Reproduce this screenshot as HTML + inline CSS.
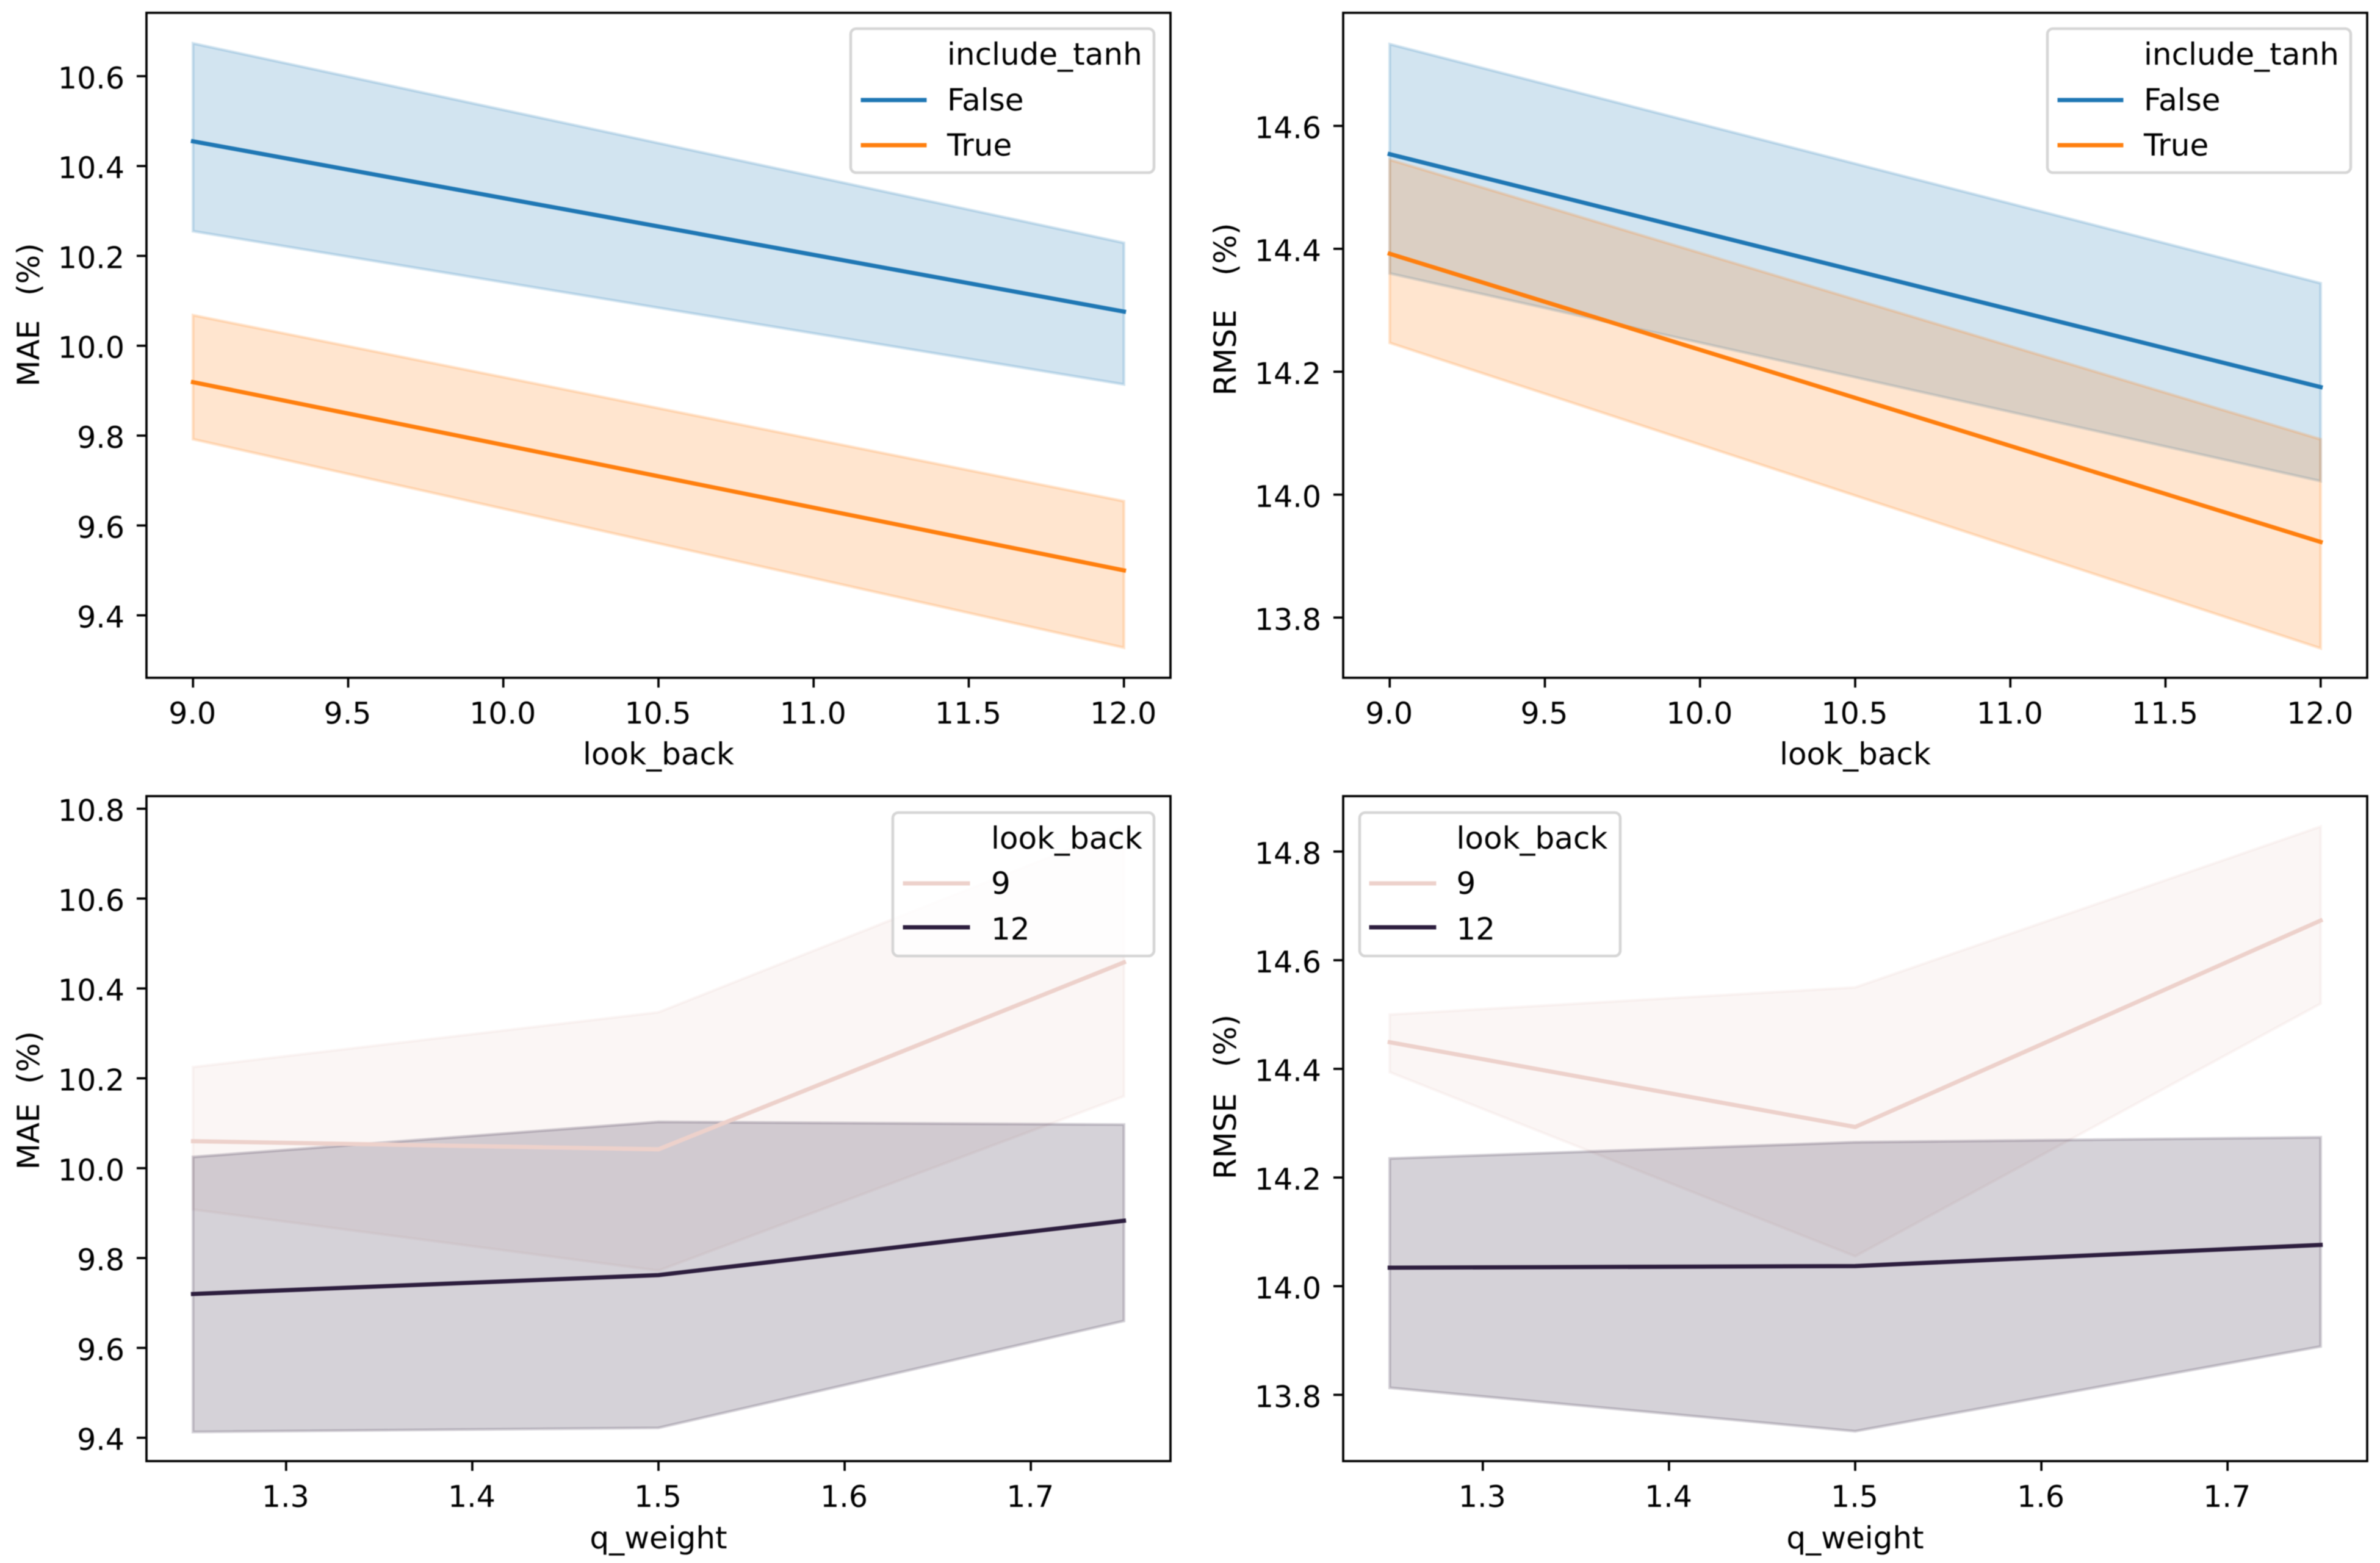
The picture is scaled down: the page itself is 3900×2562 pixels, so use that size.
<!DOCTYPE html>
<html lang="en">
<head>
<meta charset="utf-8">
<title>MAE and RMSE by look_back and q_weight</title>
<style>
  html, body { margin: 0; padding: 0; background: #fff; }
  svg { display: block; filter: blur(0.8px); }
  text { font-family: "DejaVu Sans", "Liberation Sans", sans-serif; font-size: 50px; fill: #000; white-space: pre; text-rendering: geometricPrecision; }
  text.tick-label { font-size: 49px; }
  .legend-box { fill: #fff; fill-opacity: .8; stroke: #ccc; stroke-opacity: .8; stroke-width: 4.6; }
  .frame { fill: none; stroke: #000; stroke-width: 3.7; }
  .h { fill: none; stroke-width: 6.9; stroke-linecap: square; }
</style>
</head>
<body>
<svg id="figure" xmlns="http://www.w3.org/2000/svg" width="3900" height="2562" viewBox="0 0 3900 2562">
  <rect width="3900" height="2562" fill="#fff"/>

  <g id="panel-a">
    <g id="marks-a"></g>
    <rect class="frame" x="240" y="21" width="1678" height="1090"/>
    <g id="ticks-a"></g>
    <text x="1079" y="1253" text-anchor="middle">look_back</text>
    <text transform="translate(64 516) rotate(-90)" text-anchor="middle" style="word-spacing:4px">MAE  (%)</text>
    <g>
      <rect class="legend-box" x="1394" y="47" width="497" height="236" rx="9"/>
      <text x="1552" y="106">include_tanh</text>
      <line class="h" x1="1414" x2="1515" y1="164" y2="164" stroke="#1f77b4"/>
      <text x="1552" y="181">False</text>
      <line class="h" x1="1414" x2="1515" y1="238" y2="238" stroke="#ff7f0e"/>
      <text x="1552" y="255">True</text>
    </g>
  </g>

  <g id="panel-b">
    <g id="marks-b"></g>
    <rect class="frame" x="2201" y="21" width="1678" height="1090"/>
    <g id="ticks-b"></g>
    <text x="3040" y="1253" text-anchor="middle">look_back</text>
    <text transform="translate(2025 507) rotate(-90)" text-anchor="middle" style="word-spacing:2.5px">RMSE   (%)</text>
    <g>
      <rect class="legend-box" x="3355" y="47" width="497" height="236" rx="9"/>
      <text x="3513" y="106">include_tanh</text>
      <line class="h" x1="3375" x2="3476" y1="164" y2="164" stroke="#1f77b4"/>
      <text x="3513" y="181">False</text>
      <line class="h" x1="3375" x2="3476" y1="238" y2="238" stroke="#ff7f0e"/>
      <text x="3513" y="255">True</text>
    </g>
  </g>

  <g id="panel-c">
    <g id="marks-c"></g>
    <rect class="frame" x="240" y="1305" width="1678" height="1090"/>
    <g id="ticks-c"></g>
    <text x="1079" y="2538" text-anchor="middle">q_weight</text>
    <text transform="translate(64 1803.8) rotate(-90)" text-anchor="middle">MAE  (%)</text>
    <g>
      <rect class="legend-box" x="1463" y="1332" width="428" height="235" rx="9"/>
      <text x="1624" y="1391">look_back</text>
      <line class="h" x1="1483" x2="1586" y1="1448" y2="1448" stroke="#edd1cb"/>
      <text x="1624" y="1465">9</text>
      <line class="h" x1="1483" x2="1586" y1="1520" y2="1520" stroke="#2d1e3e"/>
      <text x="1624" y="1540">12</text>
    </g>
  </g>

  <g id="panel-d">
    <g id="marks-d"></g>
    <rect class="frame" x="2201" y="1305" width="1678" height="1090"/>
    <g id="ticks-d"></g>
    <text x="3040" y="2538" text-anchor="middle">q_weight</text>
    <text transform="translate(2025 1798) rotate(-90)" text-anchor="middle" style="word-spacing:-1.7px">RMSE   (%)</text>
    <g>
      <rect class="legend-box" x="2228" y="1332" width="427" height="235" rx="9"/>
      <text x="2386.5" y="1391">look_back</text>
      <line class="h" x1="2247" x2="2350" y1="1448" y2="1448" stroke="#edd1cb"/>
      <text x="2386.5" y="1465">9</text>
      <line class="h" x1="2247" x2="2350" y1="1520" y2="1520" stroke="#2d1e3e"/>
      <text x="2386.5" y="1540">12</text>
    </g>
  </g>
</svg>

<script>
/* ---------- categories ---------- */
const lookBackValues = [9, 12];
const qWeightValues = [1.25, 1.5, 1.75];

/* ---------- tick labels ---------- */
const lookBackTicks = ['9.0', '9.5', '10.0', '10.5', '11.0', '11.5', '12.0'];
const qWeightTicks = ['1.3', '1.4', '1.5', '1.6', '1.7'];
const maeTopTicks = ['9.4', '9.6', '9.8', '10.0', '10.2', '10.4', '10.6'];
const rmseTopTicks = ['13.8', '14.0', '14.2', '14.4', '14.6'];
const maeBottomTicks = ['9.4', '9.6', '9.8', '10.0', '10.2', '10.4', '10.6', '10.8'];
const rmseBottomTicks = ['13.8', '14.0', '14.2', '14.4', '14.6', '14.8'];

/* ---------- axis limits ---------- */
const lookBackLimits = [8.85, 12.15];
const qWeightLimits = [1.225, 1.775];
const maeTopLimits = [9.261, 10.741];
const rmseTopLimits = [13.702, 14.784];
const maeBottomLimits = [9.348, 10.828];
const rmseBottomLimits = [13.678, 14.902];

/* ---------- MAE by look_back ---------- */
const maeFalseMean = [10.455, 10.076];
const maeFalseUpper = [10.673, 10.229];
const maeFalseLower = [10.255, 9.914];
const maeTrueMean = [9.919, 9.5];
const maeTrueUpper = [10.068, 9.654];
const maeTrueLower = [9.792, 9.328];

/* ---------- RMSE by look_back ---------- */
const rmseFalseMean = [14.554, 14.175];
const rmseFalseUpper = [14.733, 14.344];
const rmseFalseLower = [14.36, 14.022];
const rmseTrueMean = [14.392, 13.923];
const rmseTrueUpper = [14.545, 14.09];
const rmseTrueLower = [14.247, 13.75];

/* ---------- MAE by q_weight ---------- */
const maeLb9Mean = [10.06, 10.042, 10.458];
const maeLb9Upper = [10.225, 10.347, 10.758];
const maeLb9Lower = [9.908, 9.772, 10.16];
const maeLb12Mean = [9.72, 9.762, 9.883];
const maeLb12Upper = [10.025, 10.103, 10.097];
const maeLb12Lower = [9.413, 9.422, 9.66];

/* ---------- RMSE by q_weight ---------- */
const rmseLb9Mean = [14.449, 14.293, 14.673];
const rmseLb9Upper = [14.5, 14.55, 14.846];
const rmseLb9Lower = [14.394, 14.055, 14.52];
const rmseLb12Mean = [14.034, 14.037, 14.076];
const rmseLb12Upper = [14.235, 14.265, 14.274];
const rmseLb12Lower = [13.813, 13.733, 13.889];

const NS = 'http://www.w3.org/2000/svg';

function linearScale(domain, a, b) {
  return function (v) {
    return a + (v - domain[0]) * (b - a) / (domain[1] - domain[0]);
  };
}

function svgEl(tag, parent) {
  const el = document.createElementNS(NS, tag);
  parent.appendChild(el);
  return el;
}

function drawBand(parent, xs, upper, lower, color, sx, sy, label) {
  const pts = [];
  xs.forEach(function (x, i) { pts.push(sx(x) + ',' + sy(upper[i])); });
  for (let i = xs.length - 1; i >= 0; i--) { pts.push(sx(xs[i]) + ',' + sy(lower[i])); }
  const el = svgEl('polygon', parent);
  
  
  el.setAttribute('points', pts.join(' '));
  el.setAttribute('fill', color);
  el.setAttribute('fill-opacity', '0.2');
  el.setAttribute('stroke', color);
  el.setAttribute('stroke-opacity', '0.2');
  el.setAttribute('stroke-width', '4.6');
}

function drawLine(parent, xs, mean, color, sx, sy, label) {
  const pts = xs.map(function (x, i) { return sx(x) + ',' + sy(mean[i]); });
  const el = svgEl('polyline', parent);
  
  
  el.setAttribute('points', pts.join(' '));
  el.setAttribute('fill', 'none');
  el.setAttribute('stroke', color);
  el.setAttribute('stroke-width', '6.9');
  el.setAttribute('stroke-linecap', 'square');
  el.setAttribute('stroke-linejoin', 'round');
}

function drawXTicks(parent, labels, sx, axisY) {
  labels.forEach(function (label) {
    const x = sx(parseFloat(label));
    const tick = svgEl('line', parent);
    
    
    tick.setAttribute('x1', x);
    tick.setAttribute('x2', x);
    tick.setAttribute('y1', axisY);
    tick.setAttribute('y2', axisY + 16);
    tick.setAttribute('stroke', '#000');
    tick.setAttribute('stroke-width', '3.7');
    const text = svgEl('text', parent);
    
    
    text.setAttribute('class', 'tick-label');
    text.setAttribute('x', x - 1);
    text.setAttribute('y', axisY + 75);
    text.setAttribute('text-anchor', 'middle');
    text.textContent = label;
  });
}

function drawYTicks(parent, labels, sy, axisX) {
  labels.forEach(function (label) {
    const y = sy(parseFloat(label));
    const tick = svgEl('line', parent);
    
    
    tick.setAttribute('x1', axisX - 16);
    tick.setAttribute('x2', axisX);
    tick.setAttribute('y1', y);
    tick.setAttribute('y2', y);
    tick.setAttribute('stroke', '#000');
    tick.setAttribute('stroke-width', '3.7');
    const text = svgEl('text', parent);
    
    
    text.setAttribute('class', 'tick-label');
    text.setAttribute('x', axisX - 36);
    text.setAttribute('y', y + 20);
    text.setAttribute('text-anchor', 'end');
    text.textContent = label;
  });
}

function drawPanel(id, left, top, xs, xLimits, yLimits, xLabels, yLabels, series) {
  const sx = linearScale(xLimits, left, left + 1678);
  const sy = linearScale(yLimits, top + 1090, top);
  const marks = document.getElementById('marks-' + id);
  const ticks = document.getElementById('ticks-' + id);
  series.forEach(function (s) {
    drawBand(marks, xs, s.upper, s.lower, s.color, sx, sy, s.label);
  });
  series.forEach(function (s) {
    drawLine(marks, xs, s.mean, s.color, sx, sy, s.label);
  });
  drawXTicks(ticks, xLabels, sx, top + 1090);
  drawYTicks(ticks, yLabels, sy, left);
}

drawPanel('a', 240, 21, lookBackValues, lookBackLimits, maeTopLimits, lookBackTicks, maeTopTicks, [
  { label: 'false', color: '#1f77b4', mean: maeFalseMean, upper: maeFalseUpper, lower: maeFalseLower },
  { label: 'true', color: '#ff7f0e', mean: maeTrueMean, upper: maeTrueUpper, lower: maeTrueLower }
]);
drawPanel('b', 2201, 21, lookBackValues, lookBackLimits, rmseTopLimits, lookBackTicks, rmseTopTicks, [
  { label: 'false', color: '#1f77b4', mean: rmseFalseMean, upper: rmseFalseUpper, lower: rmseFalseLower },
  { label: 'true', color: '#ff7f0e', mean: rmseTrueMean, upper: rmseTrueUpper, lower: rmseTrueLower }
]);
drawPanel('c', 240, 1305, qWeightValues, qWeightLimits, maeBottomLimits, qWeightTicks, maeBottomTicks, [
  { label: 'look-back-9', color: '#edd1cb', mean: maeLb9Mean, upper: maeLb9Upper, lower: maeLb9Lower },
  { label: 'look-back-12', color: '#2d1e3e', mean: maeLb12Mean, upper: maeLb12Upper, lower: maeLb12Lower }
]);
drawPanel('d', 2201, 1305, qWeightValues, qWeightLimits, rmseBottomLimits, qWeightTicks, rmseBottomTicks, [
  { label: 'look-back-9', color: '#edd1cb', mean: rmseLb9Mean, upper: rmseLb9Upper, lower: rmseLb9Lower },
  { label: 'look-back-12', color: '#2d1e3e', mean: rmseLb12Mean, upper: rmseLb12Upper, lower: rmseLb12Lower }
]);
</script>
</body>
</html>
